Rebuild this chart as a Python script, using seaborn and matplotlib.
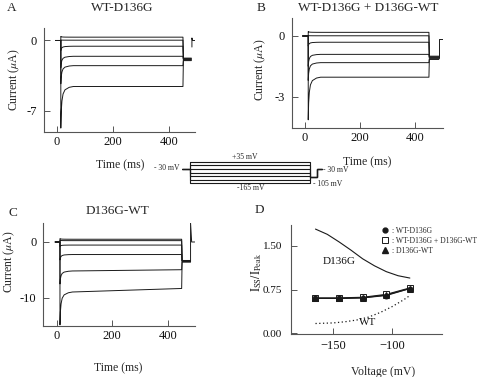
import numpy as np
import pandas as pd
import matplotlib
matplotlib.use("Agg")
import matplotlib.pyplot as plt
from matplotlib.lines import Line2D
import seaborn as sns

# ------------------------------------------------------------------ data
# shared shape of the capacitive/activation transient after step onset
decay_dt = [0, 1.5, 4, 8, 15, 30, 45]
decay_frac = [1.0, 0.6, 0.35, 0.18, 0.08, 0.02, 0.0]

# Panel A: WT-D136G (uA)
a_levels = [0.33, 0.03, -0.57, -1.57, -2.5, -4.57]
a_levels_end = [0.33, 0.03, -0.57, -1.57, -2.5, -4.57]
a_peaks = [0.4, 0.05, -1.0, -2.7, -4.3, -8.7]
a_tails = [-1.75, -1.8, -1.85, -1.9, -1.95, -2.0]
a_ret_t = [482, 482, 484, 493]
a_ret_i = [-0.65, 0.25, 0.0, 0.0]

# Panel B: WT-D136G + D136G-WT (uA)
b_levels = [0.18, 0.01, -0.31, -0.91, -1.32, -2.04]
b_levels_end = [0.18, 0.01, -0.31, -0.91, -1.32, -2.04]
b_peaks = [0.22, 0.02, -0.5, -1.5, -2.2, -4.15]
b_tails = [-1.0, -1.03, -1.06, -1.1, -1.13, -1.16]
b_ret_t = [486, 486, 500]
b_ret_i = [-1.1, -0.15, -0.15]

# Panel C: D136G-WT (uA)
c_levels = [0.49, 0.24, -0.55, -2.24, -5.2, -9.0]
c_levels_end = [0.49, 0.24, -0.55, -2.24, -4.95, -8.3]
c_peaks = [0.6, 0.3, -0.8, -3.2, -7.5, -14.8]
c_tails = [-3.3, -3.35, -3.4, -3.45, -3.5, -3.6]
c_ret_t = [482, 482, 486, 497]
c_ret_i = [-3.5, 3.4, 0.0, 0.0]

# Voltage protocol (mV)
proto_steps = [35, 2, -32, -65, -98, -132, -165]
proto_hold = -30
proto_tail = -105

# Panel D: Iss/Ipeak vs voltage
volts = [-165, -145, -125, -105, -85]
ratio_wt_d136g = [0.60, 0.60, 0.61, 0.65, 0.77]
ratio_mix = [0.61, 0.61, 0.62, 0.67, 0.78]
ratio_d136g_wt = [0.60, 0.60, 0.61, 0.66, 0.77]
ratio_err = [0.02, 0.02, 0.03, 0.03, 0.03]
d136g_v = [-165, -155, -145, -135, -125, -115, -105, -95, -85]
d136g_r = [1.79, 1.70, 1.57, 1.43, 1.28, 1.16, 1.06, 0.99, 0.95]
wt_v = [-165, -150, -140, -130, -120, -110, -100, -90, -85]
wt_r = [0.17, 0.18, 0.20, 0.23, 0.28, 0.36, 0.46, 0.58, 0.65]

# ------------------------------------------------------------------ style
sns.set_theme(style="ticks")
plt.rcParams["font.family"] = ["Liberation Serif", "DejaVu Serif"]
plt.rcParams["mathtext.fontset"] = "stix"

W, H = 500, 377
fig = plt.figure(figsize=(5, 3.77), dpi=100)
fig.patch.set_facecolor("white")


def rect(l, r, t, b):
    return [l / W, 1 - b / H, (r - l) / W, (b - t) / H]


def ftext(x, y, s, **kw):
    kw.setdefault("ha", "center")
    kw.setdefault("va", "center")
    fig.text(x / W, 1 - y / H, s, **kw)


SP = "#555555"
TR = "#1a1a1a"


def style_ax(ax):
    sns.despine(ax=ax)
    for s in ("left", "bottom"):
        ax.spines[s].set_color(SP)
        ax.spines[s].set_linewidth(0.8)
    ax.tick_params(direction="in", length=4, width=0.7, color=SP,
                   labelsize=9, colors="#111111")
    ax.tick_params(axis="y", pad=5)
    ax.tick_params(axis="x", pad=3)
    ax.set_facecolor("white")
    ax.set_xlabel("")
    ax.set_ylabel("")


def build_traces(levels, levels_end, peaks, tails, t_pre, t_on, t_off, t_tail_end):
    rows = []
    for k in range(len(levels)):
        pts = [(t_pre, 0.0), (t_on, 0.0)]
        for dt, fr in zip(decay_dt, decay_frac):
            base = levels[k] + (levels_end[k] - levels[k]) * dt / (t_off - t_on)
            pts.append((t_on + dt, base + (peaks[k] - base) * fr))
        pts.append((t_off, levels_end[k]))
        pts.append((t_off + 1.5, tails[k]))
        pts.append((t_tail_end, tails[k]))
        for j, (t, i) in enumerate(pts):
            rows.append(dict(t=t, i=i, sweep=k, order=j))
    return pd.DataFrame(rows)


def trace_panel(ax, df, ret_t, ret_i, xlim, ylim, yticks):
    sns.lineplot(data=df, x="t", y="i", units="sweep", estimator=None, sort=False,
                 color=TR, lw=0.7, ax=ax, legend=False)
    sns.lineplot(x=ret_t, y=ret_i, sort=False, estimator=None, color=TR, lw=0.7, ax=ax)
    ax.set_xlim(*xlim)
    ax.set_ylim(*ylim)
    ax.set_xticks([0, 200, 400])
    ax.set_yticks(yticks)
    ax.set_yticklabels([f"{v:g}" for v in yticks])
    style_ax(ax)


# ------------------------------------------------------------------ panel A
axA = fig.add_axes(rect(44, 195, 28, 132))
dfA = build_traces(a_levels, a_levels_end, a_peaks, a_tails, -5, 14, 450, 480)
trace_panel(axA, dfA, a_ret_t, a_ret_i, (-46, 493), (-9.09, 1.24), [0, -7])

# ------------------------------------------------------------------ panel B
axB = fig.add_axes(rect(291.7, 442.7, 18, 127.5))
dfB = build_traces(b_levels, b_levels_end, b_peaks, b_tails, -8, 12, 450, 486)
trace_panel(axB, dfB, b_ret_t, b_ret_i, (-48, 500), (-4.53, 0.89), [0, -3])

# ------------------------------------------------------------------ panel C
axC = fig.add_axes(rect(43.3, 195, 223, 326))
dfC = build_traces(c_levels, c_levels_end, c_peaks, c_tails, -5, 12, 450, 482)
trace_panel(axC, dfC, c_ret_t, c_ret_i, (-48, 498), (-15.0, 3.39), [0, -10])

# ------------------------------------------------------------------ protocol inset
axP = fig.add_axes(rect(170, 345, 150, 195))
prow = []
for k, v in enumerate(proto_steps):
    seq = [(-31, proto_hold), (0, proto_hold), (0, v), (450, v),
           (450, proto_tail), (475, proto_tail), (475, proto_hold), (495, proto_hold)]
    for j, (t, vv) in enumerate(seq):
        prow.append(dict(t=t, v=vv, sweep=k, order=j))
dfP = pd.DataFrame(prow)
sns.lineplot(data=dfP, x="t", y="v", units="sweep", estimator=None, sort=False,
             color=TR, lw=0.8, ax=axP, legend=False)
axP.set_xlim(-75, 581.25)
axP.set_ylim(-273.3, 143.3)
axP.axis("off")
ftext(245, 157.5, "+35 mV", fontsize=5.5)
ftext(251, 188, "-165 mV", fontsize=5.5)
ftext(180, 168.5, "- 30 mV", fontsize=5.5, ha="right")
ftext(323, 170, "- 30 mV", fontsize=5.5, ha="left")
ftext(313, 183.5, "- 105 mV", fontsize=5.5, ha="left")

# ------------------------------------------------------------------ panel D
axD = fig.add_axes(rect(290.7, 441.7, 225, 334))
sns.lineplot(x=d136g_v, y=d136g_r, color=TR, lw=0.8, ax=axD)
sns.lineplot(x=wt_v, y=wt_r, color=TR, lw=0.9, ax=axD, linestyle=(0, (1, 2)))
axD.errorbar(volts, ratio_mix, yerr=ratio_err, fmt="none", ecolor=TR, elinewidth=0.6, capsize=1.5)
sns.lineplot(x=volts, y=ratio_mix, color=TR, lw=0.8, marker="s", markersize=4,
             markerfacecolor="white", markeredgecolor=TR, markeredgewidth=0.7, ax=axD)
sns.lineplot(x=volts, y=ratio_d136g_wt, color=TR, lw=0.8, marker="^", markersize=4,
             markeredgecolor=TR, ax=axD)
sns.lineplot(x=volts, y=ratio_wt_d136g, color=TR, lw=0.8, marker="o", markersize=3.5,
             markeredgecolor=TR, ax=axD)
axD.set_xlim(-186, -58)
axD.set_ylim(-0.01, 1.86)
axD.set_xticks([-150, -100])
axD.set_yticks([0.0, 0.75, 1.5])
axD.set_yticklabels(["0.00", "0.75", "1.50"])
style_ax(axD)
axD.tick_params(axis="y", pad=6, labelsize=8)
axD.tick_params(axis="x", pad=4)
axD.text(-145, 1.24, "D136G", fontsize=8, ha="center", va="center", color="#111111")
axD.text(-121, 0.19, "WT", fontsize=8, ha="center", va="center", color="#111111")

handles = [
    Line2D([], [], ls="none", marker="o", ms=3.5, color=TR),
    Line2D([], [], ls="none", marker="s", ms=4, mfc="white", mec=TR, mew=0.7),
    Line2D([], [], ls="none", marker="^", ms=4, color=TR),
]
labels = [": WT-D136G", ": WT-D136G + D136G-WT", ": D136G-WT"]
axD.legend(handles, labels, loc="upper left", bbox_to_anchor=(381 / W, 1 - 226.5 / H),
           bbox_transform=fig.transFigure, frameon=False, fontsize=5.5,
           handlelength=1.0, handletextpad=0.5, labelspacing=0.3,
           borderpad=0, borderaxespad=0)

# ------------------------------------------------------------------ labels
ftext(12, 8, "A", fontsize=9.5)
ftext(261, 8, "B", fontsize=9.5)
ftext(12.5, 213, "C", fontsize=9.5)
ftext(259, 210, "D", fontsize=9.5)
ftext(122, 8, "WT-D136G", fontsize=9.5)
ftext(368, 8, "WT-D136G + D136G-WT", fontsize=9.5)
ftext(117, 211, "D136G-WT", fontsize=9.5)

ylab = "Current ($\\mu$A)"
ftext(14, 80, ylab, fontsize=8.5, rotation=90)
ftext(260, 70, ylab, fontsize=8.5, rotation=90)
ftext(9, 262, ylab, fontsize=8.5, rotation=90)
ftext(257, 272, r"$\mathrm{I_{SS}/I_{Peak}}$", fontsize=8.5, rotation=90)

ftext(120, 165, "Time (ms)", fontsize=8.5)
ftext(367, 162, "Time (ms)", fontsize=8.5)
ftext(118, 368, "Time (ms)", fontsize=8.5)
ftext(383, 372, "Voltage (mV)", fontsize=8.5)

fig.savefig("out.png", dpi=100, facecolor="white")
